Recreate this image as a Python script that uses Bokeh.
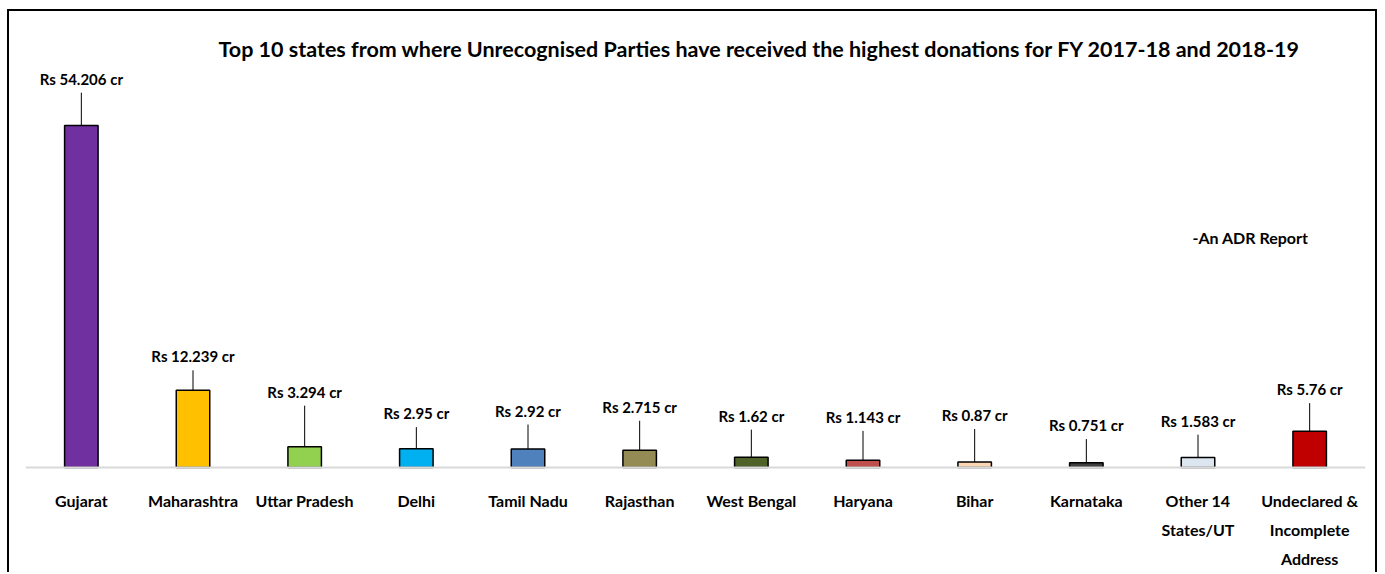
from bokeh.plotting import figure
from bokeh.models import FactorRange, Label, ColumnDataSource, Span
from bokeh.embed import file_html
from bokeh.resources import INLINE
from bokeh.core.properties import value

# ---- data ----
categories = ["Gujarat", "Maharashtra", "Uttar Pradesh", "Delhi", "Tamil Nadu",
              "Rajasthan", "West Bengal", "Haryana", "Bihar", "Karnataka",
              "Other 14 States/UT", "Undeclared & Incomplete Address"]
tick_labels = [["Gujarat"], ["Maharashtra"], ["Uttar Pradesh"], ["Delhi"], ["Tamil Nadu"],
               ["Rajasthan"], ["West Bengal"], ["Haryana"], ["Bihar"], ["Karnataka"],
               ["Other 14", "States/UT"], ["Undeclared &", "Incomplete", "Address"]]
donations_cr = [54.206, 12.239, 3.294, 2.95, 2.92, 2.715, 1.62, 1.143, 0.87, 0.751, 1.583, 5.76]
value_labels = ["Rs 54.206 cr", "Rs 12.239 cr", "Rs 3.294 cr", "Rs 2.95 cr", "Rs 2.92 cr",
                "Rs 2.715 cr", "Rs 1.62 cr", "Rs 1.143 cr", "Rs 0.87 cr", "Rs 0.751 cr",
                "Rs 1.583 cr", "Rs 5.76 cr"]
# heights (in Rs cr) where each callout label sits
label_heights = [59.4, 15.4, 9.8, 6.4, 6.8, 7.4, 6.0, 5.8, 6.1, 4.5, 5.2, 10.2]
bar_colors = ["#7030A0", "#FFC000", "#92D050", "#00B0F0", "#4F81BD", "#948A54",
              "#4F6228", "#C0504D", "#FCD5B4", "#404040", "#DCE6F1", "#C00000"]

FONT = "Lato"

src = ColumnDataSource(dict(cat=categories, val=donations_cr, lab=value_labels,
                            ly=label_heights, col=bar_colors))

# category tick labels (one row per text line)
tick_x, tick_text, tick_line = [], [], []
for c, lines in zip(categories, tick_labels):
    for i, t in enumerate(lines):
        tick_x.append(c)
        tick_text.append(t)
        tick_line.append(i)
tick_src = ColumnDataSource(dict(x=tick_x, t=tick_text,
                                 off=[33 + 29 * i for i in tick_line]))

p = figure(x_range=FactorRange(*categories, range_padding=0), y_range=(-16.96, 63.07),
           width=1370, height=563, output_backend="svg", toolbar_location=None,
           min_border_left=16, min_border_right=14, min_border_top=58, min_border_bottom=0,
           title="Top 10 states from where Unrecognised Parties have received the highest donations for FY 2017-18 and 2018-19")

p.styles = {"border-left": "2px solid black", "border-top": "2px solid black",
            "border-right": "2px solid black", "margin-left": "7px", "margin-top": "9px"}

p.title.align = "left"
p.title.offset = 193
p.title.text_font = FONT
p.title.text_font_size = "21.5px"
p.title.text_font_style = "bold"
p.title.text_color = "black"
p.title.standoff = 16

p.outline_line_color = None
p.xgrid.grid_line_color = None
p.ygrid.grid_line_color = None
p.xaxis.visible = False
p.yaxis.visible = False

p.add_layout(Span(location=0, dimension="width", line_color="#d9d9d9", line_width=2))

p.vbar(x="cat", top="val", width=0.3, source=src, fill_color="col",
       line_color="black", line_width=1.5)
p.segment(x0="cat", y0="val", x1="cat", y1="ly", source=src,
          line_color="black", line_width=1)
p.text(x="cat", y="ly", text="lab", source=src, text_align="center",
       text_baseline="bottom", y_offset=-5, text_font=value(FONT),
       text_font_size="15px", text_font_style="bold", text_color="black")

p.text(x="x", y=0, text="t", source=tick_src, y_offset="off", text_align="center",
       text_baseline="middle", text_font=value(FONT), text_font_size="16px",
       text_font_style="bold", text_color="black")

p.add_layout(Label(x=10.97, y=36.5, text="-An ADR Report", text_align="center",
                   text_baseline="middle", text_font=FONT, text_font_size="16px",
                   text_font_style="bold", text_color="black"))

open("out.html", "w").write(file_html(p, INLINE))
